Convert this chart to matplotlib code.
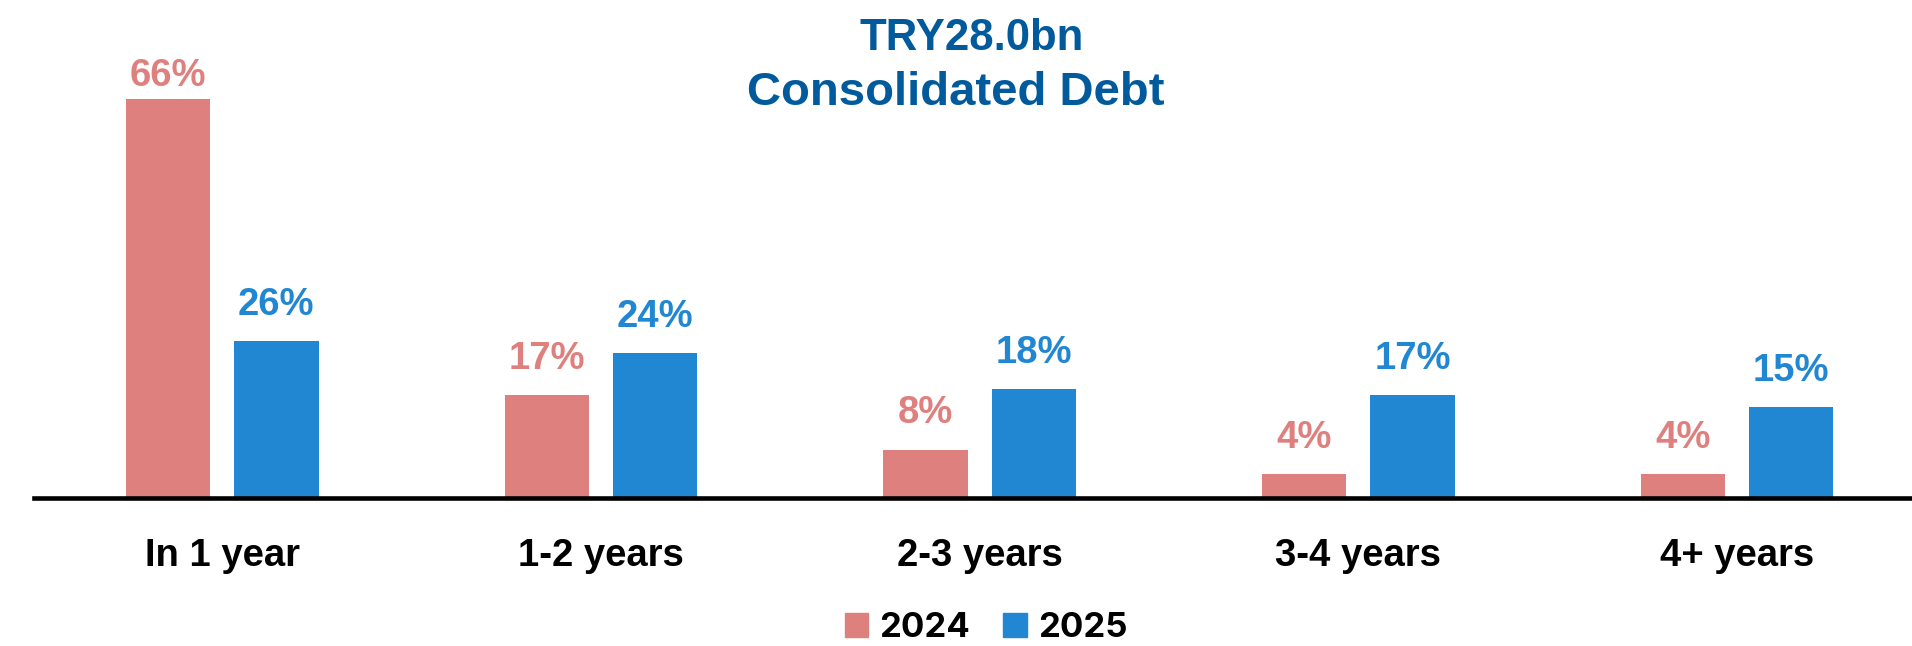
import matplotlib

matplotlib.use("Agg")
import matplotlib.pyplot as plt
import numpy as np
from matplotlib.patches import Patch

# data
categories = ["In 1 year", "1-2 years", "2-3 years", "3-4 years", "4+ years"]
years = ["2024", "2025"]
share_2024 = [66, 17, 8, 4, 4]
share_2025 = [26, 24, 18, 17, 15]
title_lines = ["TRY28.0bn", "Consolidated Debt"]

C24 = "#DE807E"
C25 = "#2287D3"
TITLE = "#005A9C"
ARIAL = ["Liberation Sans", "DejaVu Sans"]

plt.rcParams.update({"font.family": ["Inter", "DejaVu Sans"], "font.weight": "bold"})

fig = plt.figure(figsize=(19.12, 6.46), dpi=100)
ax = fig.add_axes([34 / 1912, 148 / 646, 1 - 34 / 1912, 423 / 646])

x = np.arange(len(categories))
w = 0.223
off = 0.143
YTOP = 70
b1 = ax.bar(x - off, share_2024, w, color=C24)
b2 = ax.bar(x + off, share_2025, w, color=C25)

# value labels sit a fixed gap above each bar, but never above the plot top
for bars, vals, col in ((b1, share_2024, C24), (b2, share_2025, C25)):
    for b, v in zip(bars, vals):
        ax.text(b.get_x() + b.get_width() / 2, min(v + 6.0, YTOP - 0.1), f"{v}%",
                ha="center", va="center", fontsize=27.5, fontweight="bold",
                color=col, family=ARIAL)

ax.set_xlim(-0.497, 4.462)
ax.set_ylim(0, YTOP)
ax.set_xticks(x)
ax.set_xticklabels(categories, fontsize=27.5, fontweight="bold", family=ARIAL)
ax.tick_params(axis="x", length=0, pad=29)
ax.set_yticks([])
for s in ("top", "right", "left"):
    ax.spines[s].set_visible(False)
ax.spines["bottom"].set_linewidth(3.3)
ax.spines["bottom"].set_color("black")

fig.text(0.5 + 16 / 1912, 1 - 38 / 646, title_lines[0], ha="center", va="center",
         fontsize=31.5, fontweight="bold", color=TITLE, family=ARIAL)
fig.text(0.5, 1 - 93 / 646, title_lines[1], ha="center", va="center",
         fontsize=34, fontweight="bold", color=TITLE, family=ARIAL)

handles = [Patch(color=C24), Patch(color=C25)]
fig.legend(handles, years, loc="center", bbox_to_anchor=(986 / 1912, 1 - 628 / 646),
           ncol=2, frameon=False, prop={"size": 25, "weight": "bold"},
           handlelength=0.68, handleheight=0.68, handletextpad=0.32, columnspacing=0.95)

fig.savefig("out.png", dpi=100)
